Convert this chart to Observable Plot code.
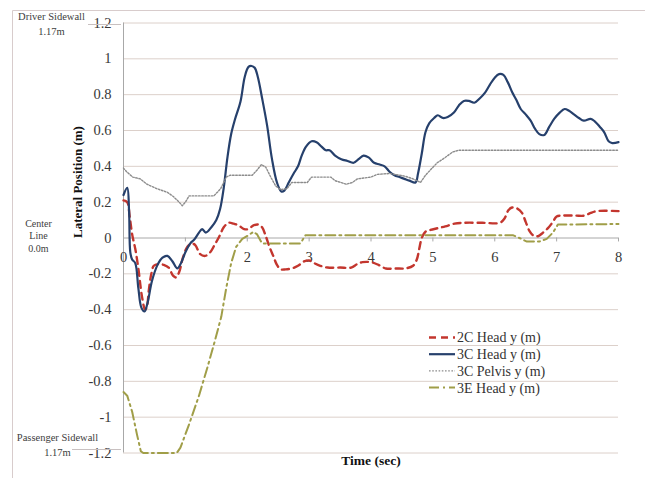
<!DOCTYPE html>
<html><head><meta charset="utf-8">
<script src="https://cdn.jsdelivr.net/npm/d3@7"></script>
<script src="https://cdn.jsdelivr.net/npm/@observablehq/plot@0.6"></script>
<style>
html,body{margin:0;padding:0;background:#fff;}
#chart{position:relative;width:645px;height:478px;}
</style></head><body><div id="chart"></div>
<script>
// ---- data ----
const xTicks = [0,1,2,3,4,5,6,7,8];
const xTickLabels = ["0","","2","3","4","5","6","7","8"];
const yTicks = [-1.2,-1,-0.8,-0.6,-0.4,-0.2,0,0.2,0.4,0.6,0.8,1,1.2];
const seriesNames = ["2C Head y (m)","3C Head y (m)","3C Pelvis y (m)","3E Head y (m)"];

const head2C = [[0.0,0.21],[0.06,0.2],[0.10,0.12],[0.14,0.02],[0.19,-0.06],[0.24,-0.17],[0.30,-0.33],[0.35,-0.40],[0.38,-0.38],[0.41,-0.29],[0.45,-0.20],[0.49,-0.155],[0.57,-0.145],[0.65,-0.15],[0.73,-0.165],[0.80,-0.21],[0.85,-0.22],[0.90,-0.19],[0.96,-0.11],[1.03,-0.05],[1.10,-0.03],[1.16,-0.04],[1.24,-0.09],[1.32,-0.10],[1.40,-0.08],[1.47,-0.04],[1.55,0.01],[1.62,0.06],[1.70,0.085],[1.78,0.08],[1.86,0.07],[1.95,0.05],[2.02,0.05],[2.10,0.07],[2.18,0.075],[2.24,0.06],[2.30,0.01],[2.36,-0.05],[2.42,-0.10],[2.48,-0.15],[2.54,-0.175],[2.62,-0.175],[2.72,-0.17],[2.82,-0.155],[2.92,-0.13],[3.00,-0.125],[3.08,-0.14],[3.18,-0.155],[3.30,-0.165],[3.50,-0.165],[3.68,-0.165],[3.78,-0.145],[3.86,-0.135],[4.00,-0.135],[4.12,-0.15],[4.24,-0.17],[4.40,-0.17],[4.55,-0.17],[4.68,-0.155],[4.74,-0.12],[4.78,-0.06],[4.82,0.0],[4.88,0.035],[4.96,0.045],[5.08,0.055],[5.20,0.065],[5.35,0.08],[5.50,0.085],[5.80,0.085],[6.08,0.085],[6.16,0.11],[6.22,0.155],[6.28,0.17],[6.36,0.165],[6.44,0.14],[6.50,0.09],[6.56,0.04],[6.62,0.015],[6.70,0.01],[6.78,0.03],[6.86,0.055],[6.94,0.09],[7.00,0.12],[7.10,0.125],[7.30,0.125],[7.45,0.125],[7.55,0.14],[7.65,0.15],[8.0,0.15]];

const head3C = [[0.0,0.24],[0.06,0.28],[0.09,0.15],[0.11,-0.08],[0.14,-0.12],[0.19,-0.14],[0.24,-0.28],[0.29,-0.39],[0.34,-0.41],[0.39,-0.36],[0.46,-0.24],[0.55,-0.15],[0.63,-0.11],[0.71,-0.10],[0.79,-0.13],[0.87,-0.17],[0.93,-0.14],[1.0,-0.08],[1.08,-0.03],[1.14,-0.01],[1.22,0.03],[1.27,0.05],[1.33,0.03],[1.42,0.06],[1.50,0.10],[1.56,0.16],[1.62,0.28],[1.68,0.45],[1.74,0.58],[1.80,0.66],[1.89,0.76],[1.96,0.90],[2.02,0.955],[2.07,0.96],[2.12,0.95],[2.17,0.90],[2.24,0.78],[2.32,0.63],[2.40,0.44],[2.48,0.31],[2.55,0.26],[2.60,0.265],[2.67,0.31],[2.75,0.36],[2.82,0.40],[2.88,0.46],[2.95,0.51],[3.04,0.54],[3.12,0.535],[3.20,0.51],[3.27,0.49],[3.33,0.49],[3.42,0.46],[3.52,0.44],[3.62,0.43],[3.72,0.42],[3.80,0.44],[3.88,0.46],[3.96,0.45],[4.05,0.42],[4.14,0.41],[4.22,0.40],[4.30,0.37],[4.38,0.35],[4.46,0.34],[4.54,0.33],[4.62,0.32],[4.72,0.31],[4.76,0.36],[4.82,0.47],[4.88,0.59],[4.94,0.64],[5.02,0.67],[5.08,0.685],[5.16,0.67],[5.24,0.675],[5.34,0.70],[5.42,0.74],[5.50,0.765],[5.58,0.765],[5.67,0.755],[5.76,0.78],[5.84,0.81],[5.92,0.855],[6.00,0.895],[6.07,0.915],[6.14,0.91],[6.21,0.87],[6.28,0.815],[6.35,0.77],[6.42,0.72],[6.50,0.69],[6.58,0.655],[6.65,0.61],[6.72,0.58],[6.80,0.575],[6.88,0.62],[6.96,0.665],[7.05,0.70],[7.13,0.72],[7.20,0.71],[7.28,0.69],[7.36,0.67],[7.44,0.655],[7.55,0.665],[7.62,0.65],[7.70,0.62],[7.77,0.59],[7.84,0.54],[7.90,0.53],[8.0,0.535]];

const pelvis3C = [[0.0,0.39],[0.05,0.37],[0.15,0.34],[0.27,0.33],[0.38,0.30],[0.54,0.275],[0.71,0.255],[0.81,0.23],[0.90,0.20],[0.95,0.18],[1.00,0.20],[1.06,0.235],[1.46,0.235],[1.57,0.275],[1.66,0.34],[1.72,0.35],[2.08,0.35],[2.16,0.38],[2.23,0.41],[2.30,0.395],[2.38,0.34],[2.46,0.29],[2.54,0.27],[2.64,0.275],[2.72,0.31],[2.97,0.31],[3.04,0.34],[3.35,0.34],[3.42,0.32],[3.60,0.30],[3.70,0.31],[3.78,0.33],[4.00,0.34],[4.10,0.355],[4.30,0.36],[4.55,0.345],[4.68,0.33],[4.80,0.31],[4.88,0.35],[4.96,0.38],[5.07,0.42],[5.16,0.44],[5.24,0.46],[5.32,0.48],[5.42,0.49],[8.0,0.49]];

const head3E = [[0.0,-0.86],[0.06,-0.88],[0.14,-0.97],[0.22,-1.10],[0.28,-1.19],[0.32,-1.20],[0.86,-1.20],[0.92,-1.17],[1.06,-1.04],[1.22,-0.88],[1.35,-0.73],[1.48,-0.57],[1.58,-0.44],[1.66,-0.28],[1.74,-0.14],[1.82,-0.05],[1.92,-0.005],[2.02,0.015],[2.10,0.035],[2.16,0.02],[2.24,-0.03],[2.86,-0.03],[2.94,0.015],[6.30,0.015],[6.40,0.0],[6.52,-0.02],[6.72,-0.02],[6.84,-0.005],[6.94,0.03],[7.02,0.075],[8.0,0.078]];

// ---- build table ----
const toRows = (arr, name) => arr.map(([t, y]) => ({series: name, t, y}));
const rows2C = toRows(head2C, seriesNames[0]);
const rows3C = toRows(head3C, seriesNames[1]);
const rowsP = toRows(pelvis3C, seriesNames[2]);
const rows3E = toRows(head3E, seriesNames[3]);

const styles = [
  {stroke:"#c3362e", strokeWidth:2.4, strokeDasharray:"7,5"},
  {stroke:"#26406c", strokeWidth:2.2, strokeDasharray:null},
  {stroke:"#8c8c8c", strokeWidth:1.4, strokeDasharray:"1.6,1.6"},
  {stroke:"#a09e48", strokeWidth:2, strokeDasharray:"10,4,2,4"}
];

const fmt = d => String(+d.toFixed(1));
const serif = "'Liberation Serif','Times New Roman',serif";

const plot = Plot.plot({
  width: 645, height: 478,
  marginLeft: 123, marginRight: 27, marginTop: 22.5, marginBottom: 25.5,
  style: {fontFamily: serif, fontSize: "14px", background: "#fff", overflow: "visible"},
  x: {domain: [0, 8], axis: null},
  y: {domain: [-1.2, 1.2]},
  marks: [
    Plot.ruleY(yTicks.filter(d => d !== 0), {x1: 0, x2: 8, stroke: "#dcd0ca", strokeWidth: 1}),
    Plot.ruleX([0], {y1: -1.2, y2: 1.2, stroke: "#a8a8a8"}),
    Plot.ruleY([0], {x1: 0, x2: 8, stroke: "#a8a8a8"}),
    Plot.ruleX(xTicks, {y1: 0, y2: -0.022, stroke: "#a8a8a8"}),
    Plot.axisY({ticks: yTicks, tickSize: 0, tickPadding: 12, tickFormat: fmt, fontSize: 14.5, fill: "#383838", label: null}),
    Plot.text(xTicks, {x: d => d, y: () => 0, text: (d, i) => xTickLabels[i], dy: 19, fontSize: 14.5, fill: "#383838"}),
    Plot.text(["Driver Sidewall\n1.17m"], {y: () => 1.2, frameAnchor: "left", textAnchor: "middle", dx: -72, dy: 0, fontSize: 10.5, lineHeight: 1.4, fill: "#404040"}),
    Plot.text(["Center\nLine\n0.0m"], {y: () => 0, frameAnchor: "left", textAnchor: "middle", dx: -85, dy: -3, fontSize: 10, lineHeight: 1.25, fill: "#404040"}),
    Plot.text(["Passenger Sidewall\n1.17m"], {y: () => -1.2, frameAnchor: "left", textAnchor: "middle", dx: -66, dy: -9, fontSize: 10.5, lineHeight: 1.35, fill: "#404040"}),
    Plot.text(["Lateral Position (m)"], {frameAnchor: "left", dx: -46, rotate: -90, fontSize: 13, fontWeight: "bold", fill: "#111"}),
    Plot.text(["Time (sec)"], {frameAnchor: "bottom", dy: 12, fontSize: 13.5, fontWeight: "bold", fill: "#111"}),
    Plot.line(rows2C, {x: "t", y: "y", curve: "catmull-rom", ...styles[0]}),
    Plot.line(rows3C, {x: "t", y: "y", curve: "catmull-rom", ...styles[1]}),
    Plot.line(rowsP, {x: "t", y: "y", curve: "linear", ...styles[2]}),
    Plot.line(rows3E, {x: "t", y: "y", curve: "linear", ...styles[3]})
  ]
});

document.getElementById("chart").appendChild(plot);

// ---- outer frame, leader lines and legend ----
const svg = d3.select(plot);
svg.insert("path", ":first-child")
  .attr("d", "M12.5,478V10.5H645")
  .attr("fill", "none").attr("stroke", "#d8cccc");
svg.append("line").attr("x1", 88).attr("x2", 121).attr("y1", 24.5).attr("y2", 24.5).attr("stroke", "#c8c0c0");
svg.append("line").attr("x1", 72).attr("x2", 121).attr("y1", 449.5).attr("y2", 449.5).attr("stroke", "#c8c0c0");

const leg = svg.append("g").attr("font-family", serif).attr("font-size", 14).attr("fill", "#333").attr("text-anchor", "start");
seriesNames.forEach((name, i) => {
  const y = 337.5 + i * 16.7;
  const s = styles[i];
  leg.append("line").attr("x1", 429).attr("x2", 455).attr("y1", y).attr("y2", y)
    .attr("stroke", s.stroke).attr("stroke-width", s.strokeWidth)
    .attr("stroke-dasharray", s.strokeDasharray);
  leg.append("text").attr("x", 457).attr("y", y).attr("dy", "0.35em").attr("text-anchor", "start").text(name);
});
</script></body></html>
